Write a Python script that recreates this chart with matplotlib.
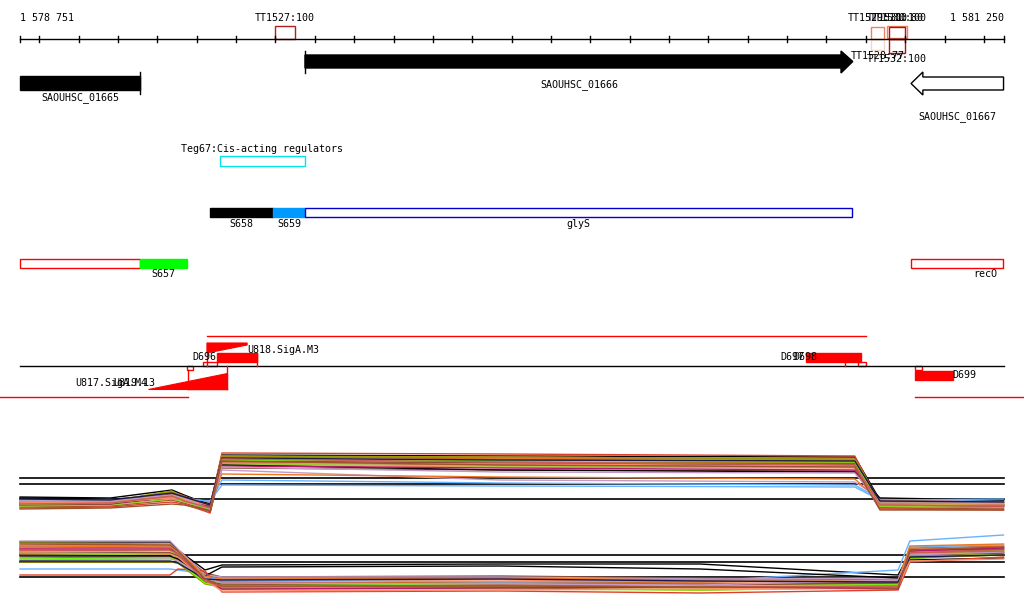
# genome browser view of the glyS region with tiling array expression profiles

import matplotlib
matplotlib.use("Agg")
import matplotlib.pyplot as plt
from matplotlib.patches import Rectangle, Polygon

# region shown
region_start = 1578751
region_end = 1581250
view_left = 1578700
view_right = 1581302

# genes (name, start, end, strand)
gene_names = ["SAOUHSC_01665", "SAOUHSC_01666", "SAOUHSC_01667"]
gene_starts = [1578751, 1579475, 1581015]
gene_ends = [1579056, 1580867, 1581250]
gene_strands = ["+", "+", "-"]

# terminators
term_names = ["TT1527:100", "TT1529:100", "TT1530:80", "TT1531:100", "TT1528:77", "TT1532:100"]
term_starts = [1579399, 1580913, 1580954, 1580959, 1580913, 1580959]
term_ends = [1579450, 1580946, 1581005, 1580999, 1580946, 1580999]
term_colors = ["#b02020", "#f08060", "#f08060", "#b01010", "#f0d8d0", "#b01010"]

# regulators
reg_name = "Teg67:Cis-acting regulators"
reg_start, reg_end = 1579259, 1579475

# transcript segments
seg_names = ["S658", "S659", "glyS"]
seg_starts = [1579234, 1579394, 1579475]
seg_ends = [1579394, 1579475, 1580865]
seg_colors = ["black", "#0099ff", "white"]

seg2_names = ["", "S657", "recO"]
seg2_starts = [1578751, 1579056, 1581015]
seg2_ends = [1579056, 1579175, 1581248]
seg2_colors = ["white", "#00ff00", "white"]

# upper strand expression profiles
up_pos = [1578751, 1578980, 1579137, 1579168, 1579234, 1579264, 1579970, 1580872, 1580936, 1581250]
up_thresholds = [8.4, 7.2, 4.2]
up_profiles = [
    [4.6, 4.4, 6.0, 5.0, 3.0, 13.0, 12.8, 12.6, 4.0, 4.0],
    [3.0, 3.4, 5.6, 4.8, 2.6, 13.4, 13.2, 12.8, 3.2, 3.6],
    [3.6, 3.8, 5.8, 4.4, 2.2, 12.2, 12.0, 11.8, 3.0, 3.4],
    [3.8, 3.6, 5.2, 4.0, 2.4, 11.8, 11.6, 11.4, 3.4, 3.0],
    [4.0, 4.2, 5.0, 4.4, 3.6, 8.0, 7.4, 7.0, 4.2, 3.8],
    [3.2, 3.6, 5.4, 4.2, 1.6, 10.4, 10.0, 9.8, 2.6, 2.8],
    [2.8, 3.0, 4.6, 3.8, 2.0, 12.0, 11.6, 11.2, 3.0, 3.2],
    [3.4, 3.2, 5.0, 4.0, 2.8, 12.6, 12.4, 12.0, 3.6, 2.6],
    [3.6, 3.4, 5.4, 3.6, 3.2, 11.0, 10.6, 10.4, 3.8, 3.6],
    [3.8, 3.8, 4.8, 4.6, 3.4, 10.0, 8.0, 7.6, 4.4, 3.4],
    [3.2, 3.4, 4.4, 4.2, 2.6, 11.4, 11.2, 11.0, 3.2, 3.0],
    [3.0, 3.2, 5.0, 3.8, 2.0, 12.4, 12.6, 12.2, 2.8, 2.4],
    [2.6, 2.8, 4.0, 3.4, 1.8, 11.6, 11.0, 10.8, 2.4, 2.2],
    [3.4, 3.6, 4.8, 4.0, 2.4, 12.8, 12.2, 11.6, 3.4, 3.2],
    [2.8, 3.0, 4.2, 3.6, 2.2, 11.2, 10.8, 10.6, 2.8, 2.6],
    [4.4, 4.2, 4.6, 4.6, 3.2, 11.0, 10.0, 9.6, 4.4, 4.0],
    [2.4, 2.6, 3.6, 3.2, 1.4, 12.2, 11.8, 11.4, 2.2, 2.0],
    [3.6, 3.8, 5.6, 4.6, 2.4, 12.8, 12.6, 12.2, 3.6, 3.2],
    [3.4, 3.2, 4.6, 4.0, 2.8, 10.8, 10.4, 10.0, 3.0, 2.8],
    [4.0, 4.0, 4.4, 4.2, 3.8, 7.0, 6.8, 6.6, 4.0, 4.2],
    [3.0, 3.2, 5.2, 4.0, 2.6, 11.8, 11.4, 11.2, 3.2, 3.0],
    [3.2, 3.4, 4.8, 4.2, 2.2, 12.0, 11.8, 11.6, 2.8, 3.4],
    [3.6, 3.6, 4.6, 4.4, 3.0, 9.2, 8.6, 8.2, 3.8, 3.6],
    [3.4, 3.6, 4.4, 4.0, 3.0, 11.4, 11.2, 10.8, 3.0, 3.0],
    [3.8, 3.8, 5.0, 4.4, 2.2, 10.6, 9.6, 9.4, 3.4, 3.4],
    [4.2, 4.0, 5.4, 4.6, 3.0, 12.4, 12.0, 11.8, 3.8, 3.6],
    [3.2, 3.4, 4.8, 3.8, 2.4, 12.2, 11.6, 11.0, 3.0, 2.8],
    [2.2, 2.4, 3.2, 3.0, 1.8, 11.8, 11.0, 10.6, 2.0, 2.0],
]

# lower strand expression profiles
low_pos = [1578751, 1579132, 1579152, 1579221, 1579264, 1579970, 1580479, 1580982, 1581012, 1581250]
low_thresholds = [9.0, 7.6, 4.6]
low_profiles = [
    [11.6, 11.6, 10.0, 6.0, 7.0, 7.2, 7.2, 5.0, 9.4, 10.4],
    [10.4, 10.6, 9.0, 4.4, 2.2, 2.4, 2.0, 2.6, 9.6, 10.6],
    [11.4, 11.2, 9.6, 4.0, 3.2, 3.4, 3.0, 3.4, 9.2, 10.0],
    [9.8, 10.0, 8.8, 3.8, 3.0, 2.8, 2.8, 3.2, 9.8, 9.6],
    [6.2, 6.2, 6.0, 5.2, 4.4, 4.2, 3.8, 6.0, 11.8, 13.0],
    [10.8, 10.8, 9.8, 5.4, 4.6, 4.8, 4.4, 4.0, 8.6, 9.0],
    [9.0, 9.2, 8.4, 3.6, 2.4, 2.2, 2.0, 2.4, 8.2, 9.6],
    [10.0, 10.2, 9.4, 4.2, 3.0, 3.2, 3.0, 3.0, 10.0, 10.6],
    [11.0, 11.0, 9.8, 4.6, 3.8, 4.0, 3.6, 3.8, 9.6, 10.2],
    [11.8, 11.8, 10.2, 5.0, 4.6, 4.6, 4.2, 4.4, 9.0, 9.8],
    [9.4, 9.4, 8.6, 3.4, 2.8, 2.6, 3.0, 2.8, 8.8, 9.4],
    [8.4, 8.6, 8.0, 4.8, 3.6, 3.4, 3.2, 3.6, 9.4, 10.2],
    [10.6, 10.6, 9.6, 4.0, 3.4, 3.0, 3.2, 3.4, 10.2, 10.0],
    [9.2, 9.4, 8.6, 3.8, 3.2, 3.6, 3.4, 3.0, 10.4, 10.8],
    [9.6, 9.8, 9.0, 4.4, 3.0, 2.8, 2.6, 3.2, 8.8, 9.2],
    [8.8, 8.8, 8.2, 4.8, 6.6, 6.8, 6.2, 4.4, 8.0, 8.4],
    [5.0, 5.0, 6.2, 5.8, 1.6, 1.8, 1.4, 2.0, 7.6, 8.6],
    [7.6, 7.6, 7.4, 3.2, 2.6, 2.6, 2.4, 2.6, 8.4, 9.0],
    [10.2, 10.2, 9.2, 4.2, 2.2, 2.4, 2.6, 2.2, 9.8, 10.4],
    [10.6, 10.8, 9.6, 4.6, 4.0, 3.6, 3.8, 3.8, 10.6, 11.0],
    [9.2, 9.4, 8.8, 3.6, 3.2, 3.0, 3.0, 3.4, 9.0, 9.4],
    [8.2, 8.4, 7.8, 3.4, 2.8, 3.2, 2.8, 3.0, 9.2, 9.8],
    [10.8, 10.6, 9.8, 4.8, 4.2, 4.4, 4.0, 4.0, 10.8, 11.2],
    [9.4, 9.2, 8.6, 4.0, 1.8, 2.0, 2.2, 2.6, 7.8, 8.2],
    [8.0, 8.2, 7.8, 4.4, 3.4, 3.2, 3.0, 4.0, 9.0, 9.6],
    [7.8, 7.8, 7.4, 4.2, 4.0, 4.2, 3.8, 3.6, 8.6, 9.0],
    [10.0, 10.0, 9.2, 3.8, 2.6, 3.0, 2.6, 2.8, 9.4, 9.8],
    [11.2, 11.0, 9.8, 4.2, 2.8, 2.8, 2.6, 2.4, 10.0, 10.6],
]

profile_colors = ["black", "#e0402a", "#999900", "#b4186e", "#66b3ff", "#8b4c39", "#66ff00",
                  "#ee7621", "#ff8c69", "#c49ac4", "#1a1a4a", "#cd5c5c", "#a0522d", "#d2691e",
                  "#9acd32"]

FONT = dict(family="DejaVu Sans Mono", fontsize=7.2)


def box(ax, start, end, top, height, fc="none", ec="black", lw=1.0):
    ax.add_patch(Rectangle((start, top), end - start, height, facecolor=fc, edgecolor=ec, lw=lw))


def draw_ruler(ax):
    ax.plot([region_start, region_end], [38.5, 38.5], color="black", lw=1)
    ticks = [region_start] + list(range(1578800, region_end, 100)) + [region_end]
    for t in ticks:
        ax.plot([t, t], [36, 41.5], color="black", lw=1)
    ax.text(region_start, 18, "1 578 751", ha="left", va="center", **FONT)
    ax.text(region_end, 18, "1 581 250", ha="right", va="center", **FONT)


def draw_genes(ax):
    for name, s, e, strand in zip(gene_names, gene_starts, gene_ends, gene_strands):
        if name == "SAOUHSC_01665":
            box(ax, s, e, 76, 14, fc="black")
            ax.plot([e, e], [72, 94], color="black", lw=1)
            ax.text((s + e) / 2, 98, name, ha="center", va="center", **FONT)
        elif strand == "+":
            head = 30
            ax.add_patch(Polygon([(s, 55), (e - head, 55), (e - head, 51), (e, 61.5),
                                  (e - head, 73), (e - head, 68), (s, 68)],
                                 closed=True, fc="black", ec="black", lw=1))
            ax.plot([s, s], [51, 73], color="black", lw=1)
            ax.text((s + e) / 2, 85, name, ha="center", va="center", **FONT)
        else:
            head = 30
            ax.add_patch(Polygon([(e, 77), (s + head, 77), (s + head, 72), (s, 83.5),
                                  (s + head, 95), (s + head, 90), (e, 90)],
                                 closed=True, fc="white", ec="black", lw=1))
            ax.text((s + e) / 2, 117, name, ha="center", va="center", **FONT)


def draw_terminators(ax):
    tops = [25.5, 27, 26, 27, 38.5, 38.5]
    heights = [13, 11.5, 12, 11.5, 11.5, 14.5]
    label_y = [18, 18, 18, 18, 56, 59]
    for name, s, e, c, t, h, ly in zip(term_names, term_starts, term_ends, term_colors,
                                      tops, heights, label_y):
        box(ax, s, e, t, h, ec=c)
        ax.text((s + e) / 2, ly, name, ha="center", va="center", **FONT)


def draw_segments(ax):
    ax.text(1579160, 149, reg_name, ha="left", va="center", **FONT)
    box(ax, reg_start, reg_end, 156, 10, ec="#00e5ee")

    for name, s, e, c in zip(seg_names, seg_starts, seg_ends, seg_colors):
        ec = "#0000cc" if c == "white" else c
        box(ax, s, e, 207.5, 9.5, fc=c, ec=ec)
        ax.text((s + e) / 2, 224, name, ha="center", va="center", **FONT)

    for name, s, e, c in zip(seg2_names, seg2_starts, seg2_ends, seg2_colors):
        ec = "red" if c == "white" else c
        box(ax, s, e, 258.5, 9.5, fc=c, ec=ec)
        x = 1581203 if name == "recO" else (s + e) / 2
        ax.text(x, 274, name, ha="center", va="center", **FONT)


def draw_motifs(ax):
    # antisense / promoter track
    ax.plot([1579226, 1580900], [336, 336], color="red", lw=1)
    ax.plot([view_left, 1579178], [397, 397], color="red", lw=1)
    ax.plot([1581025, view_right], [397, 397], color="red", lw=1)
    ax.plot([region_start, region_end], [366, 366], color="black", lw=1)

    # U818 promoter motif (forward)
    ax.add_patch(Polygon([(1579226, 343), (1579328, 343), (1579328, 345), (1579226, 353)],
                         closed=True, fc="red", ec="red", lw=0.8))
    ax.plot([1579226, 1579226], [343, 366], color="red", lw=1)
    ax.text(1579328, 350, "U818.SigA.M3", ha="left", va="center", **FONT)

    # D696
    box(ax, 1579251, 1579353, 353, 9, fc="red", ec="red")
    ax.plot([1579353, 1579353], [353, 366], color="red", lw=1)
    box(ax, 1579216, 1579251, 362, 4, ec="red")
    ax.text(1579251, 357, "D696", ha="right", va="center", **FONT)

    # U817 promoter motif (reverse)
    ax.add_patch(Polygon([(1579076, 389), (1579277, 389), (1579277, 373)],
                         closed=True, fc="red", ec="red", lw=0.8))
    ax.plot([1579277, 1579277], [366, 389], color="red", lw=1)
    ax.plot([1579178, 1579178], [370, 389], color="red", lw=1)
    ax.plot([1579178, 1579277], [389, 389], color="red", lw=1)
    box(ax, 1579175, 1579190, 366, 4, ec="red")
    ax.text(1578891, 383, "U817.SigA.M4", ha="left", va="center", **FONT)
    ax.text(1578987, 383, "U819.13", ha="left", va="center", **FONT)

    # D697 / D698
    box(ax, 1580748, 1580888, 353, 9, fc="red", ec="red")
    ax.plot([1580847, 1580847], [362, 366], color="red", lw=1)
    box(ax, 1580880, 1580900, 362, 4, ec="red")
    ax.text(1580684, 357, "D697", ha="left", va="center", **FONT)
    ax.text(1580715, 357, "D698", ha="left", va="center", **FONT)

    # D699
    box(ax, 1581025, 1581121, 371, 8.5, fc="red", ec="red")
    box(ax, 1581025, 1581043, 366, 4, ec="red")
    ax.text(1581121, 375, "D699", ha="left", va="center", **FONT)


def draw_profiles(fig, rect, pos, profiles, thresholds):
    ax = fig.add_axes(rect)
    ax.set_xlim(view_left, view_right)
    ax.set_ylim(0, 16)
    ax.axis("off")
    ax.patch.set_alpha(0)
    for t in thresholds:
        ax.plot([region_start, region_end], [t, t], color="black", lw=1.2, zorder=1)
    for i, p in enumerate(profiles):
        ax.plot(pos, p, color=profile_colors[i % len(profile_colors)], lw=1.0, zorder=2)
    return ax


def main():
    fig = plt.figure(figsize=(10.24, 6.11), dpi=100)
    ax = fig.add_axes([0, 0, 1, 1])
    ax.set_xlim(view_left, view_right)
    ax.set_ylim(611, 0)
    ax.axis("off")

    draw_ruler(ax)
    draw_genes(ax)
    draw_terminators(ax)
    draw_segments(ax)
    draw_motifs(ax)

    # expression panels: 80 px tall each
    draw_profiles(fig, [0, (611 - 520) / 611, 1, 80 / 611], up_pos, up_profiles, up_thresholds)
    draw_profiles(fig, [0, (611 - 600) / 611, 1, 80 / 611], low_pos, low_profiles, low_thresholds)

    fig.savefig("out.png", dpi=100)
    plt.close(fig)


if __name__ == "__main__":
    main()
